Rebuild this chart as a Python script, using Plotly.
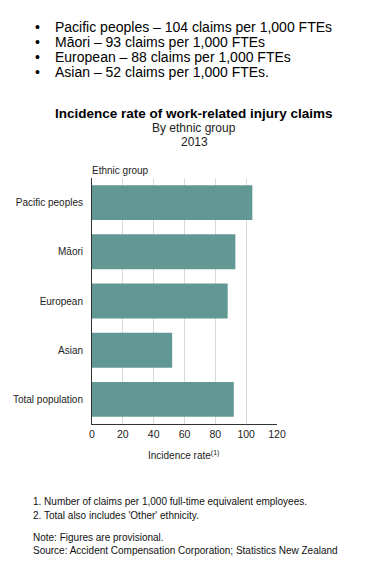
import plotly.graph_objects as go

categories = ["Pacific peoples", "Māori", "European", "Asian", "Total population"]
values = [104, 93, 88, 52, 92]
tick_vals = [0, 20, 40, 60, 80, 100, 120]

bullets = [
    "Pacific peoples – 104 claims per 1,000 FTEs",
    "Māori – 93 claims per 1,000 FTEs",
    "European – 88 claims per 1,000 FTEs",
    "Asian – 52 claims per 1,000 FTEs.",
]

W, H = 383, 562
L, R, T, B = 92, 277, 178, 424

def px(x):
    return (x - L) / (R - L)

def py(y):
    return (B - y) / (B - T)

FONT = "Liberation Sans, Arial, sans-serif"
BAR = "#629894"

fig = go.Figure(go.Bar(
    x=values, y=categories, orientation="h",
    marker=dict(color=BAR, line=dict(width=0)),
    hoverinfo="skip",
))

ann = []
def add(text, x, y, size, xanchor="left", bold=False, color="#000"):
    ann.append(dict(text=f"<b>{text}</b>" if bold else text, x=px(x), y=py(y),
                    xref="paper", yref="paper", xanchor=xanchor, yanchor="middle",
                    showarrow=False, font=dict(family=FONT, size=size, color=color)))

for i, b in enumerate(bullets):
    yy = 27 + i * 15
    add("•", 33, yy, 14)
    add(b, 53, yy, 14)

add("Incidence rate of work-related injury claims", 194, 113, 13.5, "center", bold=True)
add("By ethnic group", 194, 128, 12, "center", color="#222")
add("2013", 194, 142, 12, "center", color="#222")
add("Ethnic group", 90, 170, 10, color="#222")
add("Incidence rate<sup>(1)</sup>", 183, 455, 10, "center", color="#222")

notes = [
    ("1. Number of claims per 1,000 full-time equivalent employees.", 501),
    ("2. Total also includes 'Other' ethnicity.", 515),
    ("Note: Figures are provisional.", 537),
    ("Source: Accident Compensation Corporation; Statistics New Zealand", 550),
]
for t, yy in notes:
    add(t, 31, yy, 10, color="#111")

fig.update_layout(
    width=W, height=H,
    margin=dict(l=L, r=W - R, t=T, b=H - B, pad=0),
    paper_bgcolor="white", plot_bgcolor="white",
    bargap=0.29,
    showlegend=False,
    annotations=ann,
    xaxis=dict(range=[0, 120], tickvals=tick_vals, showgrid=True, gridcolor="#d9d9d9",
               gridwidth=1, zeroline=False, showline=True, linecolor="#333", linewidth=1,
               ticks="", tickfont=dict(family=FONT, size=10.5, color="#222"), fixedrange=True),
    yaxis=dict(categoryorder="array", categoryarray=categories, autorange="reversed",
               showline=True, linecolor="#333", linewidth=1, showgrid=False, ticks="",
               ticklabelstandoff=6,
               tickfont=dict(family=FONT, size=10, color="#222"), fixedrange=True),
)

fig.write_html("out.html")
